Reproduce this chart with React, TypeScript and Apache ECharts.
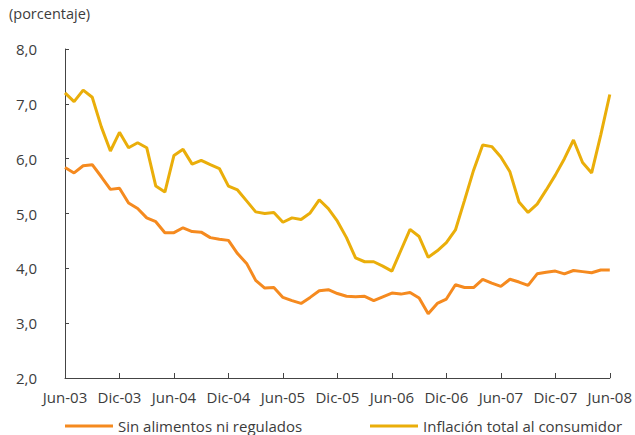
import React, { useEffect, useRef } from "react";
import * as echarts from "echarts";

const MONTHS = ["Ene", "Feb", "Mar", "Abr", "May", "Jun", "Jul", "Ago", "Sep", "Oct", "Nov", "Dic"];
const START_YEAR = 2003;
const START_MONTH = 5; // Jun
const N_POINTS = 61;

const categories: string[] = [];
for (let k = 0; k < N_POINTS; k++) {
  const m = (START_MONTH + k) % 12;
  const y = START_YEAR + Math.floor((START_MONTH + k) / 12);
  categories.push(MONTHS[m] + "-" + String(y % 100).padStart(2, "0"));
}

const seriesNames = ["Sin alimentos ni regulados", "Inflación total al consumidor"];

const sinAlimentos = [
  5.84, 5.74, 5.87, 5.89, 5.67, 5.44, 5.46, 5.19, 5.09, 4.92, 4.85, 4.65,
  4.65, 4.74, 4.67, 4.66, 4.56, 4.53, 4.51, 4.27, 4.09, 3.78, 3.64, 3.65,
  3.47, 3.41, 3.36, 3.47, 3.59, 3.61, 3.54, 3.49, 3.48, 3.49, 3.41, 3.48,
  3.55, 3.53, 3.56, 3.46, 3.17, 3.36, 3.44, 3.70, 3.65, 3.65, 3.80, 3.73,
  3.67, 3.80, 3.75, 3.69, 3.90, 3.93, 3.95, 3.90, 3.96, 3.94, 3.92, 3.97,
  3.97,
];

const inflacionTotal = [
  7.20, 7.04, 7.25, 7.12, 6.58, 6.14, 6.48, 6.20, 6.29, 6.20, 5.50, 5.39,
  6.06, 6.17, 5.90, 5.97, 5.89, 5.82, 5.50, 5.43, 5.23, 5.03, 5.00, 5.02,
  4.84, 4.92, 4.89, 5.01, 5.25, 5.09, 4.86, 4.56, 4.19, 4.12, 4.12, 4.04,
  3.95, 4.33, 4.71, 4.58, 4.20, 4.32, 4.47, 4.70, 5.24, 5.79, 6.25, 6.22,
  6.03, 5.76, 5.21, 5.02, 5.17, 5.43, 5.70, 6.00, 6.34, 5.93, 5.74, 6.43,
  7.17,
];

const ORANGE = "#F58A1F";
const YELLOW = "#EAAE0A";
const TEXT = "#3c3c3c";
const FONT = "'Open Sans', 'DejaVu Sans', sans-serif";

export default function App() {
  const ref = useRef<HTMLDivElement>(null);

  useEffect(() => {
    if (!ref.current) return;
    const chart = echarts.init(ref.current, undefined, { renderer: "svg" });
    chart.setOption({
      animation: false,
      backgroundColor: "#ffffff",
      textStyle: { fontFamily: FONT },
      grid: { left: 65, right: 22, top: 49, bottom: 57, containLabel: false },
      graphic: [
        {
          type: "text",
          left: 9,
          top: 6,
          style: { text: "(porcentaje)", fill: TEXT, fontSize: 14.5, fontFamily: FONT },
        },
      ],
      legend: [
        {
          data: [seriesNames[0]],
          left: 65,
          top: 417,
          padding: 0,
          icon: "rect",
          itemWidth: 48,
          itemHeight: 3,
          textStyle: { color: TEXT, fontSize: 15, fontFamily: FONT, lineHeight: 18 },
        },
        {
          data: [seriesNames[1]],
          left: 370,
          top: 417,
          padding: 0,
          icon: "rect",
          itemWidth: 48,
          itemHeight: 3,
          textStyle: { color: TEXT, fontSize: 15, fontFamily: FONT, lineHeight: 18 },
        },
      ],
      xAxis: {
        type: "category",
        data: categories,
        boundaryGap: false,
        axisLine: { show: true, lineStyle: { color: "#444", width: 1 } },
        axisTick: { show: true, inside: true, interval: 5, length: 5, lineStyle: { color: "#444" } },
        axisLabel: { interval: 5, color: TEXT, fontSize: 15, margin: 11, fontFamily: FONT },
        splitLine: { show: false },
      },
      yAxis: {
        type: "value",
        min: 2,
        max: 8,
        interval: 1,
        axisLine: { show: true, lineStyle: { color: "#444", width: 1 } },
        axisTick: { show: true, inside: true, length: 4, lineStyle: { color: "#444" } },
        axisLabel: {
          color: TEXT,
          fontSize: 15,
          margin: 28,
          fontFamily: FONT,
          formatter: (v: number) => v.toFixed(1).replace(".", ","),
        },
        splitLine: { show: false },
      },
      series: [
        {
          name: seriesNames[0],
          type: "line",
          data: sinAlimentos,
          showSymbol: false,
          symbol: "none",
          color: ORANGE,
          lineStyle: { color: ORANGE, width: 3 },
        },
        {
          name: seriesNames[1],
          type: "line",
          data: inflacionTotal,
          showSymbol: false,
          symbol: "none",
          color: YELLOW,
          lineStyle: { color: YELLOW, width: 3 },
        },
      ],
    });
    return () => chart.dispose();
  }, []);

  return <div ref={ref} style={{ width: 635, height: 435, position: "absolute", left: 0, top: 0 }} />;
}
